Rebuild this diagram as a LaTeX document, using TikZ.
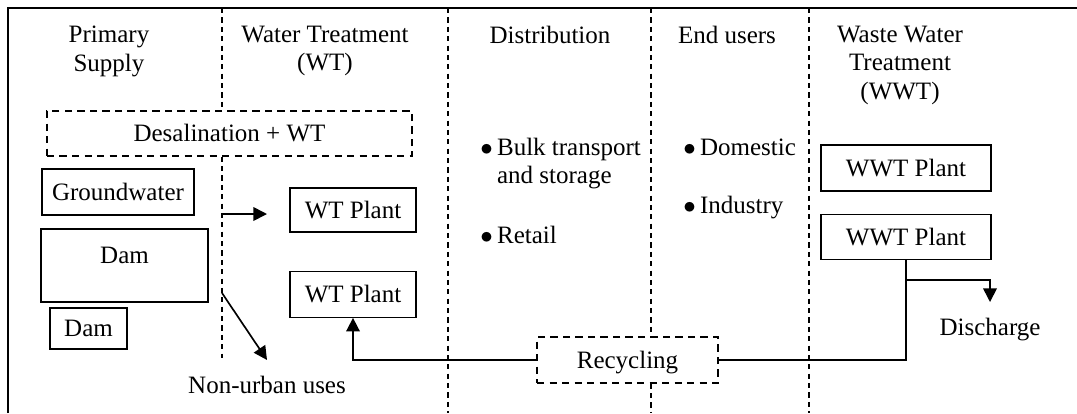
\documentclass[tikz,border=0pt]{standalone}
\usepackage{fontspec}
\setmainfont{Liberation Serif}
\usetikzlibrary{arrows.meta, positioning}

\begin{document}
\begin{tikzpicture}[
  x=0.48pt, y=-0.48pt,
  font=\fontsize{12}{13.5}\selectfont,
  box/.style={draw, rectangle, line width=0.6pt, inner sep=0pt, align=center},
  dbox/.style={box, dash pattern=on 3.5pt off 2.5pt},
  divider/.style={line width=0.6pt, dash pattern=on 2.5pt off 2pt},
  arrow/.style={-{Triangle[length=6.5pt, width=6.5pt]}, line width=0.8pt},
  link/.style={line width=0.8pt},
  lbl/.style={inner sep=0pt},
  hdr/.style={inner sep=0pt, align=center, anchor=north}
]
\useasboundingbox (0,0) rectangle (1077,413);

% Frame
\draw[line width=0.5pt] (8,413) -- (8,8) -- (1077,8);

% Column headers
\node[hdr] (hprim) at (109,26) {Primary\\Supply};
\node[hdr] (hwt) at (325,26) {Water Treatment\\(WT)};
\node[hdr] (hdist) at (550,26) {Distribution};
\node[hdr] (hend) at (727,26) {End users};
\node[hdr] (hwwt) at (900,26) {Waste Water\\Treatment\\(WWT)};

% Boxes
\node[dbox, minimum width=175.2pt, minimum height=21.6pt] (desal) at (229.5,133.5) {Desalination + WT};
\node[box, minimum width=72.96pt, minimum height=22.08pt] (ground) at (118,192) {Groundwater};
\node[box, minimum width=80.16pt, minimum height=35.04pt] (dambig) at (124.5,265.5) {Dam\\[-4pt]\mbox{}};
\node[box, minimum width=36.96pt, minimum height=19.68pt] (damsmall) at (88.5,328.5) {Dam};
\node[box, minimum width=60.48pt, minimum height=21.12pt] (wt1) at (353,210) {WT Plant};
\node[box, minimum width=60.48pt, minimum height=22.08pt, below=18.24pt of wt1] (wt2) {WT Plant};
\node[box, minimum width=81.6pt, minimum height=22.08pt] (wwt1) at (906,168) {WWT Plant};
\node[box, minimum width=81.6pt, minimum height=21.6pt, below=10.56pt of wwt1] (wwt2) {WWT Plant};
\node[dbox, minimum width=86.88pt, minimum height=22.08pt, text depth=0pt] (recyc) at (627.5,360) {Recycling};

% Bullet items
\node[lbl, anchor=base west] (bulk) at (480,155) {\begin{tabular}[t]{@{}l@{\,}l@{}}$\bullet$ & Bulk transport\\ & and storage\end{tabular}};
\node[lbl, anchor=base west] (retail) at (480,243) {$\bullet$\,Retail};
\node[lbl, anchor=base west] (domestic) at (683,155) {$\bullet$\,Domestic};
\node[lbl, anchor=base west] (industry) at (683,213) {$\bullet$\,Industry};

% Free labels
\node[lbl, anchor=base] (nonurban) at (267,393) {Non-urban uses};
\node[lbl, anchor=base] (discharge) at (990,335) {Discharge};

% Dividers
\coordinate (d1) at (222,8);
\coordinate (d2) at (448,8);
\coordinate (d3) at (651,8);
\coordinate (d4) at (809,8);
\coordinate (d1end) at (222,358);
\draw[divider] (d1) -- (d1 |- desal.north);
\draw[divider] (d1 |- desal.south) -- (d1end);
\draw[divider] (d2) -- (448,413);
\draw[divider] (d3) -- (d3 |- recyc.north);
\draw[divider] (d3 |- recyc.south) -- (651,413);
\draw[divider] (d4) -- (809,413);

% Arrows
\coordinate (gwout) at (222,214);
\coordinate (gwtip) at (267,214);
\coordinate (nuout) at (222,293);
\coordinate (nutip) at (267,360);
\coordinate (split) at (906,280);
\coordinate (distip) at (990,302);
\draw[arrow] (gwout) -- (gwtip);
\draw[arrow] (nuout) -- (nutip);
\draw[arrow] (recyc.west) -| (wt2.south);
\draw[link] (recyc.east) -| (wwt2.south);
\draw[arrow] (split) -| (distip);

\end{tikzpicture}
\end{document}
